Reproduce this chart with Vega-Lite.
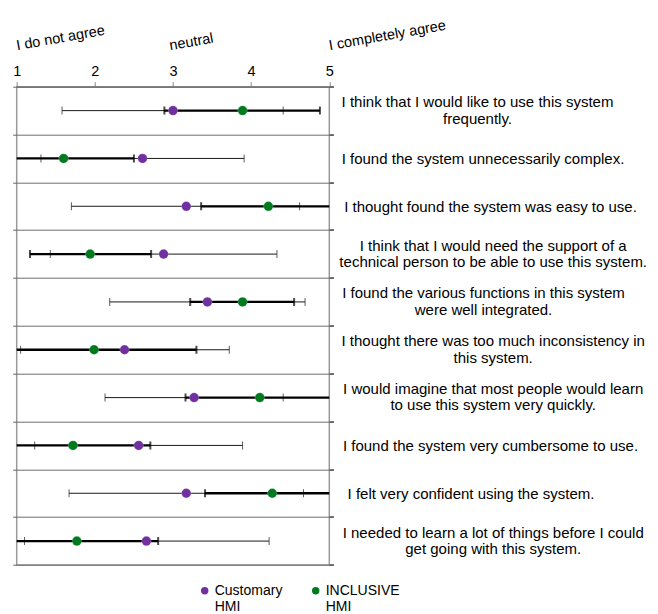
{
  "$schema": "https://vega.github.io/schema/vega-lite/v6.json",
  "autosize": "none",
  "padding": {"left": 16.7, "top": 86.7, "right": 328.7, "bottom": 49},
  "width": 312.6,
  "height": 478.3,
  "background": "white",
  "config": {
    "font": "Liberation Sans",
    "view": {"stroke": "#9a9a9a", "strokeWidth": 1.5},
    "axis": {"labelColor": "black", "labelFont": "Liberation Sans"},
    "axisRight": {"title": null, "domain": false, "tickBand": "extent", "tickSize": 4, "tickColor": "#666", "grid": false,
      "labelAlign": "center", "labelBaseline": "middle", "labelFontSize": 15, "labelLineHeight": 16.4, "labelLimit": 0, "labelOverlap": false},
    "legend": {"labelFont": "Liberation Sans"}
  },
  "data": {
    "values": [
      {"q": "I think that I would like to use this system|frequently.", "group": "Customary HMI", "mean": 3.0, "lo": 1.58, "hi": 4.41},
      {"q": "I think that I would like to use this system|frequently.", "group": "INCLUSIVE HMI", "mean": 3.89, "lo": 2.89, "hi": 4.88},
      {"q": "I found the system unnecessarily complex.", "group": "Customary HMI", "mean": 2.61, "lo": 1.31, "hi": 3.91},
      {"q": "I found the system unnecessarily complex.", "group": "INCLUSIVE HMI", "mean": 1.6, "lo": 0.7, "hi": 2.5},
      {"q": "I thought found the system was easy to use.", "group": "Customary HMI", "mean": 3.17, "lo": 1.7, "hi": 4.62},
      {"q": "I thought found the system was easy to use.", "group": "INCLUSIVE HMI", "mean": 4.22, "lo": 3.36, "hi": 5.08},
      {"q": "I think that I would need the support of a|technical person to be able to use this system.", "group": "Customary HMI", "mean": 2.88, "lo": 1.43, "hi": 4.33},
      {"q": "I think that I would need the support of a|technical person to be able to use this system.", "group": "INCLUSIVE HMI", "mean": 1.94, "lo": 1.17, "hi": 2.72},
      {"q": "I found the various functions in this system|were well integrated.", "group": "Customary HMI", "mean": 3.44, "lo": 2.19, "hi": 4.69},
      {"q": "I found the various functions in this system|were well integrated.", "group": "INCLUSIVE HMI", "mean": 3.89, "lo": 3.22, "hi": 4.55},
      {"q": "I thought there was too much inconsistency in|this system.", "group": "Customary HMI", "mean": 2.38, "lo": 1.05, "hi": 3.72},
      {"q": "I thought there was too much inconsistency in|this system.", "group": "INCLUSIVE HMI", "mean": 1.99, "lo": 0.68, "hi": 3.3},
      {"q": "I would imagine that most people would learn|to use this system very quickly.", "group": "Customary HMI", "mean": 3.27, "lo": 2.13, "hi": 4.41},
      {"q": "I would imagine that most people would learn|to use this system very quickly.", "group": "INCLUSIVE HMI", "mean": 4.11, "lo": 3.16, "hi": 5.06},
      {"q": "I found the system very cumbersome to use.", "group": "Customary HMI", "mean": 2.56, "lo": 1.23, "hi": 3.89},
      {"q": "I found the system very cumbersome to use.", "group": "INCLUSIVE HMI", "mean": 1.72, "lo": 0.73, "hi": 2.71},
      {"q": "I felt very confident using the system.", "group": "Customary HMI", "mean": 3.17, "lo": 1.67, "hi": 4.67},
      {"q": "I felt very confident using the system.", "group": "INCLUSIVE HMI", "mean": 4.27, "lo": 3.41, "hi": 5.13},
      {"q": "I needed to learn a lot of things before I could|get going with this system.", "group": "Customary HMI", "mean": 2.66, "lo": 1.1, "hi": 4.23},
      {"q": "I needed to learn a lot of things before I could|get going with this system.", "group": "INCLUSIVE HMI", "mean": 1.77, "lo": 0.73, "hi": 2.81}
    ]
  },
  "resolve": {"axis": {"x": "independent", "y": "independent"}},
  "layer": [
    {
      "transform": [{"filter": "datum.group === 'Customary HMI'"}],
      "mark": {"type": "rule", "color": "#1a1a1a", "strokeWidth": 1, "clip": true},
      "encoding": {
        "x": {"field": "lo", "type": "quantitative", "scale": {"domain": [1, 5], "nice": false, "zero": false},
          "axis": {"orient": "top", "values": [1, 2, 3, 4, 5], "title": null, "grid": false, "labelFlush": false,
            "labelFontSize": 14.5, "labelPadding": 3, "tickSize": 5, "tickColor": "#888", "domainColor": "#777", "domainWidth": 1.5, "labelBound": false}},
        "x2": {"field": "hi"},
        "y": {"field": "q", "type": "nominal", "sort": null, "scale": {"paddingInner": 0, "paddingOuter": 0},
          "axis": {"orient": "left", "title": null, "labels": false, "domain": false, "tickBand": "extent",
            "tickSize": 4, "tickColor": "#666", "grid": true, "gridColor": "#6e6e6e", "gridWidth": 1}}
      }
    },
    {
      "transform": [{"filter": "datum.group === 'Customary HMI'"}],
      "mark": {"type": "tick", "color": "#1a1a1a", "thickness": 1, "size": 8, "clip": true},
      "encoding": {
        "x": {"field": "lo", "type": "quantitative",
          "axis": {"orient": "top", "values": [1, 2.96, 5], "title": null, "grid": false, "domain": false, "ticks": false,
            "tickSize": 0, "labelPadding": 37, "labelAngle": -10, "labelAlign": "left", "labelBaseline": "alphabetic",
            "labelFontSize": 14.5, "labelFlush": false, "labelOverlap": false, "labelBound": false,
            "labelExpr": "datum.value == 1 ? 'I do not agree' : datum.value == 5 ? 'I completely agree' : 'neutral'"}},
        "y": {"field": "q", "type": "nominal", "sort": null,
          "axis": {"orient": "right", "labelPadding": 149.2,
            "labelExpr": "indexof(datum.label, 'unnecessarily') >= 0 ? datum.label : ''"}}
      }
    },
    {
      "transform": [{"filter": "datum.group === 'Customary HMI'"}],
      "mark": {"type": "tick", "color": "#1a1a1a", "thickness": 1, "size": 8, "clip": true},
      "encoding": {
        "x": {"field": "hi", "type": "quantitative", "axis": null},
        "y": {"field": "q", "type": "nominal", "sort": null,
          "axis": {"orient": "right", "labelPadding": 137.2,
            "labelExpr": "indexof(datum.label, 'confident') >= 0 ? datum.label : ''"}}
      }
    },
    {
      "transform": [{"filter": "datum.group === 'INCLUSIVE HMI'"}],
      "mark": {"type": "rule", "color": "black", "strokeWidth": 2.3, "clip": true},
      "encoding": {
        "x": {"field": "lo", "type": "quantitative", "axis": null},
        "x2": {"field": "hi"},
        "y": {"field": "q", "type": "nominal", "sort": null,
          "axis": {"orient": "right", "labelPadding": 156.7,
            "labelExpr": "(indexof(datum.label, 'cumbersome') >= 0 || indexof(datum.label, 'easy to use') >= 0) ? datum.label : ''"}}
      }
    },
    {
      "transform": [{"filter": "datum.group === 'INCLUSIVE HMI'"}],
      "mark": {"type": "tick", "color": "black", "thickness": 2, "size": 8, "clip": true},
      "encoding": {
        "x": {"field": "lo", "type": "quantitative", "axis": null},
        "y": {"field": "q", "type": "nominal", "sort": null,
          "axis": {"orient": "right", "labelPadding": 143.7, "labelOffset": -9,
            "labelExpr": "indexof(datum.label, 'frequently') >= 0 ? split(datum.label, '|') : ''"}}
      }
    },
    {
      "transform": [{"filter": "datum.group === 'INCLUSIVE HMI'"}],
      "mark": {"type": "tick", "color": "black", "thickness": 2, "size": 8, "clip": true},
      "encoding": {
        "x": {"field": "hi", "type": "quantitative", "axis": null},
        "y": {"field": "q", "type": "nominal", "sort": null,
          "axis": {"orient": "right", "labelPadding": 149.7, "labelOffset": -9,
            "labelExpr": "indexof(datum.label, 'various functions') >= 0 ? split(datum.label, '|') : ''"}}
      }
    },
    {
      "mark": {"type": "point", "filled": true, "size": 90, "opacity": 1, "stroke": "#ffffff", "strokeWidth": 0.6, "strokeOpacity": 0.35},
      "encoding": {
        "x": {"field": "mean", "type": "quantitative", "axis": null},
        "y": {"field": "q", "type": "nominal", "sort": null,
          "axis": {"orient": "right", "labelPadding": 159.4, "labelOffset": -9,
            "labelExpr": "(indexof(datum.label, 'technical person') >= 0 || indexof(datum.label, 'inconsistency') >= 0 || indexof(datum.label, 'imagine') >= 0 || indexof(datum.label, 'needed to learn') >= 0) ? split(datum.label, '|') : ''"}},
        "color": {"field": "group", "type": "nominal",
          "scale": {"domain": ["Customary HMI", "INCLUSIVE HMI"], "range": ["#7030a0", "#007a1e"]},
          "legend": {"title": null, "orient": "none", "direction": "horizontal", "legendX": 181, "legendY": 497,
            "symbolType": "circle", "symbolSize": 55, "symbolStrokeWidth": 0, "labelFontSize": 14, "labelLineHeight": 15.5,
            "labelExpr": "split(datum.label, ' ')", "labelOffset": 3, "columnPadding": 26, "padding": 0, "labelLimit": 0}}
      }
    }
  ]
}
